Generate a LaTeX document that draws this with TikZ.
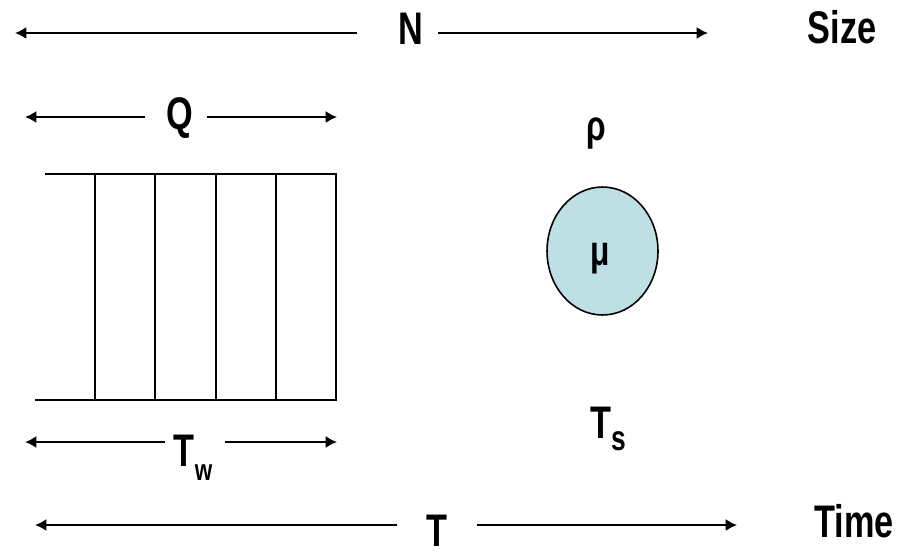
\documentclass[tikz,border=0pt]{standalone}
\usepackage{fontspec}
\setmainfont{Liberation Sans}[FakeStretch=0.75]
\usepackage{tikz}
\usetikzlibrary{
    arrows.meta,
    shapes.geometric
}
\definecolor{serverblue}{RGB}{190,223,227}

\tikzset{
    lbl/.style={font=\bfseries\fontsize{26}{30}\selectfont, inner sep=0pt, anchor=base},
    greek/.style={font=\bfseries\fontsize{24}{28}\selectfont, inner sep=0pt, anchor=base},
    dimline/.style={line width=1.5pt, -{Latex[length=6.5pt,width=7pt]}},
    slot/.style={line width=1.1pt},
    server/.style={ellipse, draw, line width=0.9pt, fill=serverblue, inner sep=0pt,
        minimum width=2.22cm, minimum height=2.56cm}
}

\begin{document}
\begin{tikzpicture}[x=0.02cm, y=-0.02cm]

\useasboundingbox (0,0) rectangle (898,555);

% Size arrow with N
\node[lbl] (N) at (411,44) {N};
\node[lbl] (size) at (842,43) {Size};
\coordinate (Na) at (357,33);
\coordinate (Nl) at (15,33);
\coordinate (Nb) at (438,33);
\coordinate (Nr) at (708,33);
\draw[dimline] (Na) -- (Nl);
\draw[dimline] (Nb) -- (Nr);

% Queue length arrow
\node[lbl] (Q) at (180,129) {Q};
\coordinate (Qa) at (145,117);
\coordinate (Ql) at (25,117);
\coordinate (Qb) at (207,117);
\coordinate (Qr) at (337,117);
\draw[dimline] (Qa) -- (Ql);
\draw[dimline] (Qb) -- (Qr);

% Utilization
\node[greek] (rho) at (596,140) {ρ};

% Waiting line with slots
\draw[slot, line width=1.4pt] (45,174) -- (336,174) -- (336,400) -- (35,400);
\foreach \x in {95,155,216,276}
    \draw[slot] (\x,174) -- (\x,400);

% Server
\node[server] (srv) at (602.5,251) {};
\node[greek] (mu) at (600,265) {μ};

% Waiting time arrow
\node[lbl] (Tw) at (193,466) {T\raisebox{-8pt}{\fontsize{17}{17}\selectfont w}};
\coordinate (Twa) at (165,442);
\coordinate (Twl) at (25,442);
\coordinate (Twb) at (225,442);
\coordinate (Twr) at (337,442);
\draw[dimline] (Twa) -- (Twl);
\draw[dimline] (Twb) -- (Twr);

% Service time
\node[lbl] (Ts) at (608,438) {T\raisebox{-7pt}{\fontsize{20}{20}\selectfont s}};

% Total time arrow
\node[lbl] (T) at (437,546) {T};
\node[lbl] (time) at (854,537) {Time};
\coordinate (Ta) at (397,525);
\coordinate (Tl) at (35,525);
\coordinate (Tb) at (477,525);
\coordinate (Tr) at (737,525);
\draw[dimline] (Ta) -- (Tl);
\draw[dimline] (Tb) -- (Tr);

\end{tikzpicture}
\end{document}
